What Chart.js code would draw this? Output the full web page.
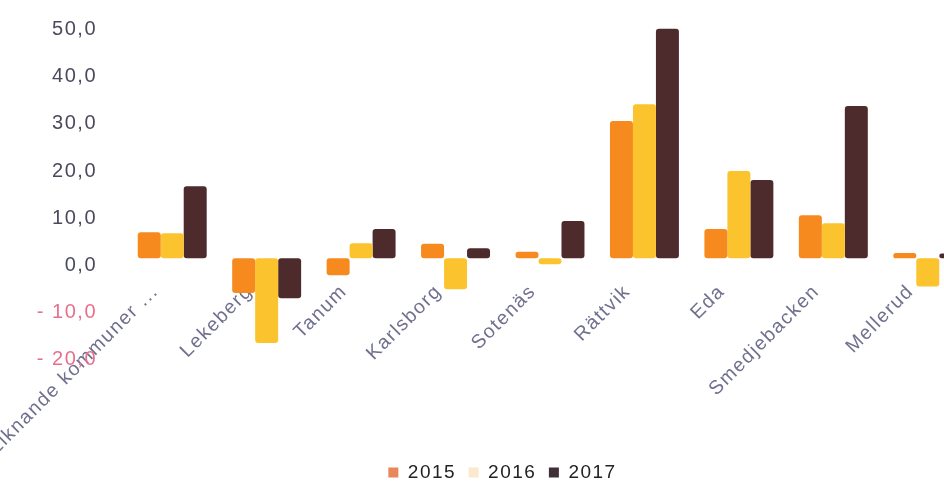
<!DOCTYPE html>
<html>
<head>
<meta charset="utf-8">
<script src="https://cdn.jsdelivr.net/npm/chart.js@4.4.1/dist/chart.umd.min.js"></script>
<style>
  html, body { margin: 0; padding: 0; background: #ffffff; overflow: hidden; }
  #wrap { position: relative; width: 975px; height: 482px; }
</style>
</head>
<body>
<div id="wrap"><canvas id="c"></canvas></div>
<script>
const categories = ["Liknande kommuner ...", "Lekeberg", "Tanum", "Karlsborg", "Sotenäs", "Rättvik", "Eda", "Smedjebacken", "Mellerud"];
const seriesNames = ["2015", "2016", "2017"];
const values2015 = [5.5, -7.4, -3.6, 3.1, 1.4, 29.1, 6.2, 9.1, 1.1];
const values2016 = [5.3, -18.0, 3.2, -6.6, -1.3, 32.7, 18.5, 7.4, -6.0];
const values2017 = [15.3, -8.5, 6.2, 2.1, 7.9, 48.7, 16.6, 32.3, 1.0];
const yTickValues = [-20, -10, 0, 10, 20, 30, 40, 50];
const yTickLabels = ["- 20,0", "- 10,0", "0,0", "10,0", "20,0", "30,0", "40,0", "50,0"];

const barColors = ["#F68A1F", "#FBC42E", "#4D2A2B"];
const legendColors = ["#E8875A", "#FCE8CC", "#3F2F36"];

const spacingPlugin = {
  id: 'spacing',
  beforeUpdate(chart) { chart.ctx.letterSpacing = '1.5px'; },
  beforeLayout(chart) { chart.ctx.letterSpacing = '1.5px'; },
  afterLayout(chart) {
    const lg = chart.legend;
    if (lg) { lg.left += 15; lg.right += 15; }
  },
  beforeDraw(chart) { chart.ctx.letterSpacing = '1.5px'; }
};

const ctx = document.getElementById('c');
new Chart(ctx, {
  type: 'bar',
  data: {
    labels: categories,
    datasets: [
      { label: seriesNames[0], data: values2015, backgroundColor: barColors[0] },
      { label: seriesNames[1], data: values2016, backgroundColor: barColors[1] },
      { label: seriesNames[2], data: values2017, backgroundColor: barColors[2] }
    ]
  },
  plugins: [spacingPlugin],
  options: {
    responsive: true,
    maintainAspectRatio: false,
    animation: false,
    layout: { padding: { top: 22.6, left: 0, right: 0, bottom: -10 } },
    datasets: {
      bar: { barPercentage: 1.0, categoryPercentage: 0.73, borderRadius: 3, borderSkipped: false }
    },
    scales: {
      x: {
        position: { y: 0 },
        afterFit: (s) => { s.paddingLeft = 0; s.paddingRight = 0; s.paddingTop = 0; s.paddingBottom = 0; },
        grid: { display: false, drawTicks: false },
        border: { display: false },
        ticks: {
          minRotation: 45, maxRotation: 45, autoSkip: false, padding: 22, labelOffset: -17,
          color: '#70708F',
          font: { family: 'Liberation Sans', size: 19.5 }
        }
      },
      y: {
        min: -20, max: 50,
        afterFit: (s) => { s.width = 125; s.paddingTop = 0; s.paddingBottom = 0; },
        afterBuildTicks: (s) => { s.ticks = yTickValues.map(v => ({ value: v })); },
        grid: { display: false, drawTicks: false },
        border: { display: false },
        ticks: {
          padding: 28, labelOffset: 7,
          color: (c) => (c.tick && c.tick.value < 0) ? '#E8708C' : '#4A4A5E',
          font: { family: 'Liberation Sans', size: 20 },
          callback: (v) => { const i = yTickValues.indexOf(v); return i >= 0 ? yTickLabels[i] : ''; }
        }
      }
    },
    plugins: {
      tooltip: { enabled: false },
      legend: {
        position: 'bottom',
        title: { display: true, text: ' ', padding: { top: 0, bottom: 86 }, font: { size: 10 } },
        labels: {
          boxWidth: 10, boxHeight: 10, padding: 12.5,
          color: '#222222',
          font: { family: 'Liberation Sans', size: 19 },
          generateLabels: (chart) => chart.data.datasets.map((d, i) => ({
            text: d.label, fillStyle: legendColors[i], strokeStyle: legendColors[i], lineWidth: 0,
            hidden: false, datasetIndex: i, fontColor: '#222222'
          }))
        }
      }
    }
  }
});
</script>
</body>
</html>
